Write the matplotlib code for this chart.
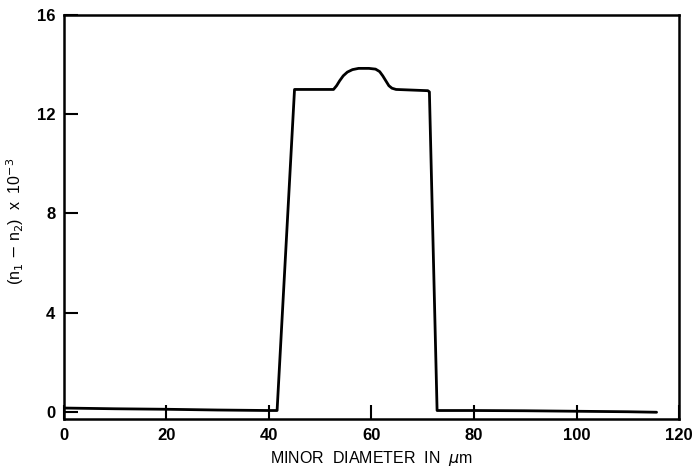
import matplotlib
matplotlib.use("Agg")
import matplotlib.pyplot as plt

# profile
diameter = [0, 10, 20, 30, 40, 41.6, 45, 52.6, 53.2, 53.8, 54.5, 55.3, 56.3,
            57.5, 59.5, 60.8, 61.6, 62.2, 62.8, 63.4, 64.0, 64.8, 71.0, 71.3,
            72.8, 80, 90, 100, 110, 115.6]
delta_n = [0.15, 0.12, 0.10, 0.07, 0.05, 0.05, 13.0, 13.0, 13.15, 13.35,
           13.55, 13.7, 13.8, 13.85, 13.85, 13.82, 13.72, 13.55, 13.35, 13.15,
           13.05, 13.0, 12.95, 12.9, 0.05, 0.05, 0.04, 0.02, 0.0, -0.02]

xticks = [0, 20, 40, 60, 80, 100, 120]
yticks = [0, 4, 8, 12, 16]

plt.rcParams["font.family"] = ["Liberation Sans", "DejaVu Sans"]

fig = plt.figure(figsize=(6.93, 4.71), dpi=100)
ax = fig.add_axes([0.092, 0.110, 0.888, 0.858])

ax.plot(diameter, delta_n, color="black", linewidth=2.0,
        solid_joinstyle="round", solid_capstyle="round")

ax.set_xlim(0, 120)
ax.set_ylim(-0.3, 16)
ax.set_xticks(xticks)
ax.set_yticks(yticks)
ax.tick_params(direction="in", length=10, width=1.5, labelsize=12, pad=6)
ax.tick_params(top=False, right=False)
for lab in ax.get_xticklabels() + ax.get_yticklabels():
    lab.set_fontweight("bold")
for s in ax.spines.values():
    s.set_linewidth(1.8)

ax.set_xlabel("MINOR  DIAMETER  IN  $\\mu$m", fontsize=11.5, labelpad=5)
ax.set_ylabel("(n$_1$ $-$ n$_2$)  x  10$^{-3}$", fontsize=11.5)
ax.yaxis.set_label_coords(-0.062, 0.49)

fig.savefig("out.png", dpi=100)
